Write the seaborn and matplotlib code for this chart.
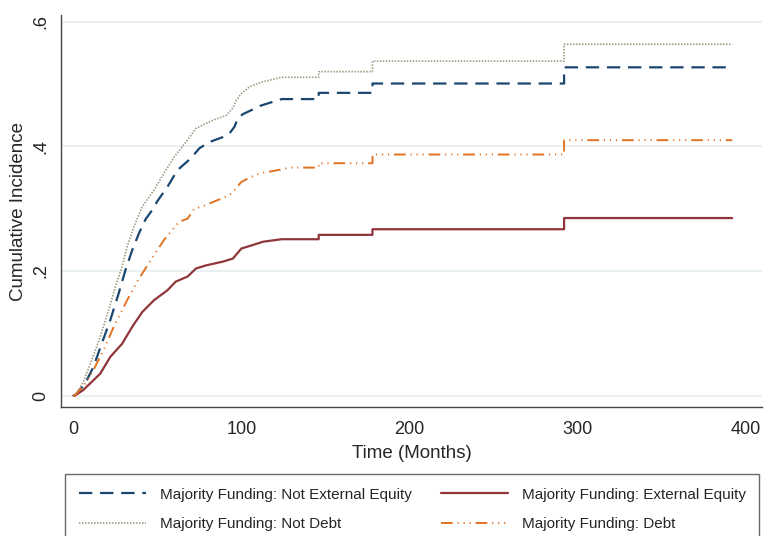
#!/usr/bin/env python
"""Cumulative incidence curves by majority funding source (Stata-like look)."""
import matplotlib
matplotlib.use('Agg')
import matplotlib.pyplot as plt
import seaborn as sb

# time in months / cumulative incidence
t_not_equity = [0, 1, 7, 12, 17, 22, 27, 31, 35, 39, 43, 47, 50, 56, 62, 70, 75, 81,
                89, 93, 96, 98, 101, 105, 111, 118, 124, 146, 146, 178, 178,
                292, 292, 392]
v_not_equity = [0, 0, 0.019, 0.046, 0.084, 0.121, 0.164, 0.201, 0.233, 0.260, 0.283,
                0.298, 0.312, 0.335, 0.362, 0.381, 0.397, 0.407, 0.415, 0.421, 0.432,
                0.446, 0.452, 0.457, 0.465, 0.471, 0.476, 0.476, 0.486, 0.486, 0.501,
                0.501, 0.527, 0.527]

t_equity = [0, 1, 6, 16, 22, 29, 35, 41, 48, 56, 61, 68, 73, 79, 89, 95, 100, 106,
            113, 124, 146, 146, 178, 178, 292, 292, 392]
v_equity = [0, 0, 0.009, 0.035, 0.062, 0.083, 0.110, 0.134, 0.153, 0.169, 0.183,
            0.191, 0.204, 0.209, 0.215, 0.220, 0.236, 0.241, 0.247, 0.251, 0.251,
            0.258, 0.258, 0.267, 0.267, 0.285, 0.285]

t_not_debt = [0, 1, 6, 11, 16, 21, 25, 29, 32, 36, 41, 48, 54, 60, 67, 73, 83, 91,
              95, 97, 100, 105, 113, 124, 146, 146, 178, 178, 292, 292, 392]
v_not_debt = [0, 0, 0.022, 0.057, 0.094, 0.137, 0.174, 0.207, 0.239, 0.271, 0.303,
              0.330, 0.357, 0.383, 0.407, 0.429, 0.442, 0.450, 0.462, 0.474, 0.485,
              0.496, 0.504, 0.511, 0.511, 0.520, 0.520, 0.537, 0.537, 0.564, 0.564]

t_debt = [0, 1, 8, 12, 18, 24, 32, 38, 46, 54, 63, 68, 72, 76, 87, 93, 96, 100,
          105, 111, 118, 129, 146, 146, 178, 178, 292, 292, 392]
v_debt = [0, 0, 0.022, 0.041, 0.073, 0.110, 0.153, 0.183, 0.217, 0.250, 0.279,
          0.284, 0.300, 0.303, 0.315, 0.322, 0.330, 0.343, 0.350, 0.357, 0.360,
          0.366, 0.366, 0.373, 0.373, 0.387, 0.387, 0.410, 0.410]

x_ticks = [0, 100, 200, 300, 400]
y_ticks = [0, 0.2, 0.4, 0.6]
y_tick_labels = ['0', '.2', '.4', '.6']

labels = ['Majority Funding: Not External Equity',
          'Majority Funding: External Equity',
          'Majority Funding: Not Debt',
          'Majority Funding: Debt']


def main():
    sb.set_style('white')
    plt.rcParams['font.family'] = ['Liberation Sans', 'DejaVu Sans']

    fig = plt.figure(figsize=(7.72, 5.36), dpi=100)
    ax = fig.add_axes([0.0786, 0.240, 0.909, 0.732])

    # one entry per curve: data, colour, line width, dash pattern
    series = [
        (t_not_equity, v_not_equity, '#1a476f', 1.6, (0, (6, 3.5))),
        (t_equity, v_equity, '#90353b', 1.6, '-'),
        (t_not_debt, v_not_debt, '#9a9c82', 1.2, (0, (0.9, 0.9))),
        (t_debt, v_debt, '#e37222', 1.4, (0, (6, 2.5, 0.6, 2.5, 0.6, 2.5, 0.6, 2.5))),
    ]
    for (t, v, col, lw, ls), lab in zip(series, labels):
        sb.lineplot(x=t, y=v, ax=ax, color=col, linewidth=lw, linestyle=ls,
                    estimator=None, sort=False, label=lab)

    ax.set_xlim(-7.5, 410)
    ax.set_ylim(-0.019, 0.611)
    ax.set_xticks(x_ticks)
    ax.set_xticklabels([str(x) for x in x_ticks])
    ax.set_yticks(y_ticks)
    ax.set_yticklabels(y_tick_labels, rotation=90, va='center')

    ax.yaxis.grid(True, color='#e4edf1', linewidth=1.2)
    ax.xaxis.grid(False)
    for side in ['top', 'right']:
        ax.spines[side].set_visible(False)
    for side in ['left', 'bottom']:
        ax.spines[side].set_color('#444444')
        ax.spines[side].set_linewidth(1.0)
    ax.tick_params(axis='both', length=6, width=1, color='#444444',
                   labelsize=13, direction='out')
    ax.tick_params(axis='x', pad=4)
    ax.tick_params(axis='y', pad=2)

    ax.set_xlabel('Time (Months)', fontsize=13.5, labelpad=5)
    ax.set_ylabel('Cumulative Incidence', fontsize=13.5, labelpad=4)

    # legend below the plot, two columns, boxed
    h, l = ax.get_legend_handles_labels()
    order = [0, 2, 1, 3]
    ax.legend([h[i] for i in order], [l[i] for i in order],
              ncol=2, loc='upper left', bbox_to_anchor=(65 / 772, 1 - 474 / 536),
              bbox_transform=fig.transFigure, borderaxespad=0, fontsize=11,
              frameon=True, fancybox=False, edgecolor='#444444',
              handlelength=4.4, handletextpad=0.9, columnspacing=1.9,
              borderpad=0.9, labelspacing=1.0)
    ax.get_legend().get_frame().set_linewidth(1.0)

    fig.savefig('out.png', dpi=100)


if __name__ == '__main__':
    main()
